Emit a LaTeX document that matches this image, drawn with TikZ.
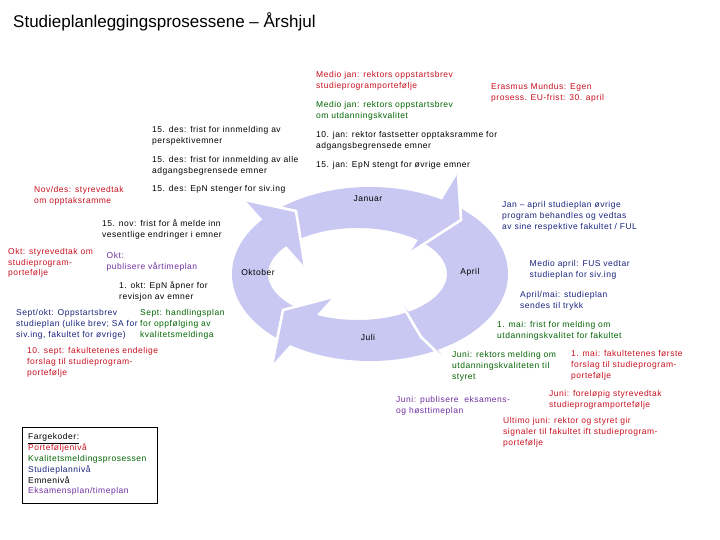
\documentclass[tikz,border=0pt]{standalone}
\usepackage{fontspec}
\setmainfont{Liberation Sans}
\newfontfamily\lblfont[LetterSpace=6]{Liberation Sans}
\definecolor{ringcol}{RGB}{200,200,242}
\definecolor{tred}{RGB}{200,16,30}
\definecolor{tgreen}{RGB}{0,100,0}
\definecolor{tblue}{RGB}{25,35,125}
\definecolor{tpurple}{RGB}{112,48,160}
\begin{document}
\begin{tikzpicture}[x=1pt,y=-1pt,
  lbl/.style={anchor=north west, inner sep=0pt, align=left, font=\lblfont\fontsize{8.5}{10.8}\selectfont},
  ringlbl/.style={inner sep=0pt, font=\lblfont\fontsize{8.5}{10.8}\selectfont},
  headfill/.style={fill=ringcol},
  gapline/.style={draw=white, line width=2.6pt, line join=round}]
\useasboundingbox[fill=white] (0,0) rectangle (720,540);

\node[anchor=west, inner sep=0pt, font=\fontsize{17}{20}\selectfont] (title) at (13,22) {Studieplanleggingsprosessene – Årshjul};

% ring body
\fill[ringcol, even odd rule] (370,274) ellipse[x radius=138, y radius=87]
                              (357.5,274) ellipse[x radius=89.5, y radius=46];
% arrow heads: barb, tip, inner barb
\coordinate (janB) at (458,173); \coordinate (janT) at (461,220); \coordinate (janI) at (410,253);
\coordinate (aprB) at (447,362); \coordinate (aprT) at (421,337); \coordinate (aprI) at (398,298);
\coordinate (julB) at (272,365); \coordinate (julT) at (283,310); \coordinate (julI) at (333,297);
\coordinate (oktB) at (245,200); \coordinate (oktT) at (296,211); \coordinate (oktI) at (305,267);
\foreach \h in {jan,apr,jul,okt}{
  \fill[headfill] (\h B) -- (\h T) -- (\h I) -- cycle;
  \draw[gapline] (\h B) -- (\h T) -- (\h I);
}

\node[ringlbl] (jan) at (368,199) {Januar};
\node[ringlbl] (apr) at (470,272) {April};
\node[ringlbl] (jul) at (368,337) {Juli};
\node[ringlbl] (okt) at (258,272) {Oktober};

\node[lbl, text=tred] (n1) at (316,71.5) {Medio jan: rektors oppstartsbrev\\studieprogramportefølje};
\node[lbl, text=tred] (n2) at (491,83) {Erasmus Mundus: Egen\\prosess. EU-frist: 30. april};
\node[lbl, text=tgreen] (n3) at (316,101.5) {Medio jan: rektors oppstartsbrev\\om utdanningskvalitet};
\node[lbl] (n4) at (316,131) {10. jan: rektor fastsetter opptaksramme for\\adgangsbegrensede emner};
\node[lbl] (n5) at (316,161.5) {15. jan: EpN stengt for øvrige emner};
\node[lbl] (n6) at (152,126.5) {15. des: frist for innmelding av\\perspektivemner};
\node[lbl] (n7) at (152,156.5) {15. des: frist for innmelding av alle\\adgangsbegrensede emner};
\node[lbl] (n8) at (152,185) {15. des: EpN stenger for siv.ing};
\node[lbl, text=tred] (n9) at (34,186.5) {Nov/des: styrevedtak\\om opptaksramme};
\node[lbl] (n10) at (102,219.5) {15. nov: frist for å melde inn\\vesentlige endringer i emner};
\node[lbl, text=tred] (n11) at (8,248) {Okt: styrevedtak om\\studieprogram-\\portefølje};
\node[lbl, text=tpurple] (n12) at (106.5,252.5) {Okt:\\publisere vårtimeplan};
\node[lbl] (n13) at (119,281.5) {1. okt: EpN åpner for\\revisjon av emner};
\node[lbl, text=tblue] (n14) at (16,309.5) {Sept/okt: Oppstartsbrev\\studieplan (ulike brev; SA for\\siv.ing, fakultet for øvrige)};
\node[lbl, text=tgreen] (n15) at (140,309.5) {Sept: handlingsplan\\for oppfølging av\\kvalitetsmeldinga};
\node[lbl, text=tred] (n16) at (27,347.5) {10. sept: fakultetenes endelige\\forslag til studieprogram-\\portefølje};
\node[lbl, text=tblue] (n17) at (502,201.5) {Jan – april studieplan øvrige\\program behandles og vedtas\\av sine respektive fakultet / FUL};
\node[lbl, text=tblue] (n18) at (529.5,260.5) {Medio april: FUS vedtar\\studieplan for siv.ing};
\node[lbl, text=tblue] (n19) at (520,291.5) {April/mai: studieplan\\sendes til trykk};
\node[lbl, text=tgreen] (n20) at (497,321.5) {1. mai: frist for melding om\\utdanningskvalitet for fakultet};
\node[lbl, text=tgreen] (n21) at (452,351.5) {Juni: rektors melding om\\utdanningskvaliteten til\\styret};
\node[lbl, text=tred] (n22) at (571,350.5) {1. mai: fakultetenes første\\forslag til studieprogram-\\portefølje};
\node[lbl, text=tpurple] (n23) at (396,396.5) {Juni: publisere \ eksamens-\\og høsttimeplan};
\node[lbl, text=tred] (n24) at (549,390.5) {Juni: foreløpig styrevedtak\\studieprogramportefølje};
\node[lbl, text=tred] (n25) at (503,417.5) {Ultimo juni: rektor og styret gir\\signaler til fakultet ift studieprogram-\\portefølje};

\node[draw, line width=0.8pt, anchor=north west, inner sep=0pt, minimum width=135pt, minimum height=76pt] (legbox) at (22,427) {};
\node[lbl] (leg) at (28,433.5) {\underline{Fargekoder:}\\\textcolor{tred}{Porteføljenivå}\\\textcolor{tgreen}{Kvalitetsmeldingsprosessen}\\\textcolor{tblue}{Studieplannivå}\\Emnenivå\\\textcolor{tpurple}{Eksamensplan/timeplan}};
\end{tikzpicture}
\end{document}
